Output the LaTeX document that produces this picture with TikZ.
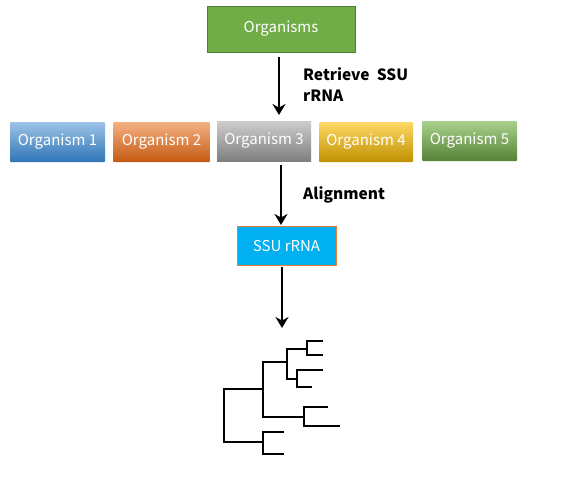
\documentclass[tikz,border=0pt]{standalone}
\usepackage{fontspec}
\setmainfont{Noto Sans CJK SC}
\usetikzlibrary{arrows.meta}
\definecolor{orgG}{HTML}{70AD47}
\definecolor{orgGd}{HTML}{507E32}
\definecolor{ssuB}{HTML}{00B0F0}
\definecolor{ssuO}{HTML}{ED7D31}
\definecolor{bT}{RGB}{157,195,230}
\definecolor{bB}{RGB}{46,117,182}
\definecolor{oT}{RGB}{244,177,131}
\definecolor{oB}{RGB}{197,90,17}
\definecolor{gT}{RGB}{205,205,205}
\definecolor{gB}{RGB}{127,127,127}
\definecolor{yT}{RGB}{255,217,102}
\definecolor{yB}{RGB}{191,144,0}
\definecolor{nT}{RGB}{169,209,142}
\definecolor{nB}{RGB}{84,130,53}
\newcommand{\bx}[1]{\raisebox{-2.5pt}{#1}}
\tikzset{
  box/.style={minimum width=#1, minimum height=40pt, inner sep=0pt, text=white, font=\fontsize{15}{17}\selectfont},
  arr/.style={line width=2pt, -{Stealth[length=11pt,width=13pt]}},
  tree/.style={line width=2pt, line cap=rect},
  lab/.style={font=\bfseries\fontsize{15.5}{21}\selectfont, anchor=west, align=left, inner sep=0pt}
}
\begin{document}
\begin{tikzpicture}[x=1pt,y=-1pt]
\useasboundingbox (0,0) rectangle (567,496);
\node[box=148pt, minimum height=46pt, fill=orgG, draw=orgGd, line width=0.8pt] (org) at (281,29) {\bx{Organisms}};
\node[box=95pt, top color=bT, bottom color=bB, rounded corners=1pt] (o1) at (57.5,142) {\bx{Organism 1}};
\node[box=97pt, top color=oT, bottom color=oB, rounded corners=1pt] (o2) at (161.5,142) {\bx{Organism 2}};
\node[box=94pt, top color=gT, bottom color=gB] (o3) at (264,141) {\bx{Organism 3}};
\node[box=94pt, top color=yT, bottom color=yB, rounded corners=1pt] (o4) at (366,142) {\bx{Organism 4}};
\node[box=95pt, top color=nT, bottom color=nB, rounded corners=1pt] (o5) at (469.5,141) {\bx{Organism 5}};
\node[box=99pt, minimum height=39pt, fill=ssuB, draw=ssuO, line width=0.8pt] (ssu) at (286.5,245.5) {\bx{SSU rRNA}};
\coordinate (a1s) at (279,57);
\coordinate (a1e) at (279,115);
\coordinate (a2s) at (281,165);
\coordinate (a2e) at (281,225);
\coordinate (a3s) at (282,267);
\coordinate (a3e) at (282,328);
\draw[arr] (a1s) -- (a1e);
\draw[arr] (a2s) -- (a2e);
\draw[arr] (a3s) -- (a3e);
\node[lab] (l1) at (303,85) {Retrieve\ \ SSU\\rRNA};
\node[lab] (l2) at (303,195) {Alignment};
% tree
\draw[tree] (263,389) -- (224,389) -- (224,442) -- (263,442);
\draw[tree] (287,362) -- (263,362) -- (263,417) -- (304,417);
\draw[tree] (307,349) -- (287,349) -- (287,379) -- (297,379);
\draw[tree] (322,341) -- (307,341) -- (307,355) -- (322,355);
\draw[tree] (322,370) -- (297,370) -- (297,387) -- (311,387);
\draw[tree] (327,407) -- (304,407) -- (304,426) -- (339,426);
\draw[tree] (283,432) -- (263,432) -- (263,454) -- (283,454);
\end{tikzpicture}
\end{document}
